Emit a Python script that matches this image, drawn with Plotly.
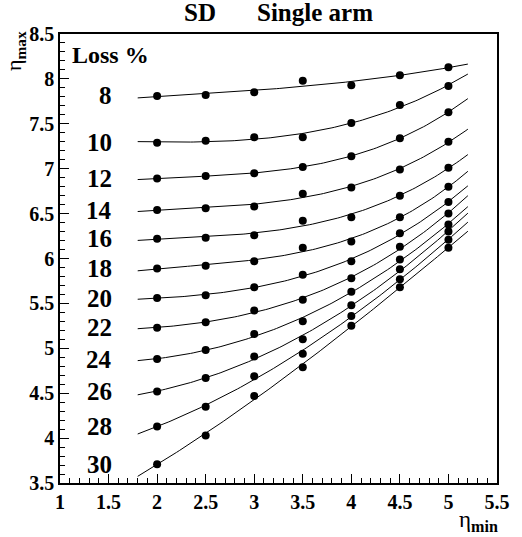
import numpy as np
import plotly.graph_objects as go

# eta_min values
eta_min = [2.0, 2.5, 3.0, 3.5, 4.0, 4.5, 5.0]
# loss percentages (series labels)
loss_labels = ["8", "10", "12", "14", "16", "18", "20", "22", "24", "26", "28", "30"]
# eta_max values per loss series
loss_8 = [7.81, 7.82, 7.85, 7.98, 7.93, 8.04, 8.13]
loss_10 = [7.29, 7.31, 7.35, 7.35, 7.51, 7.71, 7.92]
loss_12 = [6.89, 6.92, 6.95, 7.02, 7.14, 7.34, 7.63]
loss_14 = [6.54, 6.56, 6.58, 6.72, 6.79, 6.99, 7.30]
loss_16 = [6.22, 6.23, 6.26, 6.42, 6.46, 6.70, 7.01]
loss_18 = [5.89, 5.92, 5.97, 6.12, 6.19, 6.46, 6.80]
loss_20 = [5.56, 5.59, 5.68, 5.82, 5.97, 6.28, 6.63]
loss_22 = [5.23, 5.29, 5.42, 5.54, 5.78, 6.13, 6.50]
loss_24 = [4.88, 4.98, 5.16, 5.30, 5.63, 5.99, 6.38]
loss_26 = [4.52, 4.67, 4.91, 5.10, 5.48, 5.88, 6.30]
loss_28 = [4.13, 4.35, 4.69, 4.94, 5.36, 5.77, 6.21]
loss_30 = [3.71, 4.03, 4.47, 4.79, 5.25, 5.68, 6.12]

series = [loss_8, loss_10, loss_12, loss_14, loss_16, loss_18,
          loss_20, loss_22, loss_24, loss_26, loss_28, loss_30]

# axis tick labels
x_ticks = [1, 1.5, 2, 2.5, 3, 3.5, 4, 4.5, 5, 5.5]
y_ticks = [3.5, 4, 4.5, 5, 5.5, 6, 6.5, 7, 7.5, 8, 8.5]

fit_range = (1.8, 5.2)

FONT = "Liberation Serif"
fig = go.Figure()

xf = np.linspace(fit_range[0], fit_range[1], 120)
for lab, ys in zip(loss_labels, series):
    coef = np.polyfit(eta_min, ys, 3)
    fig.add_trace(go.Scatter(x=xf, y=np.polyval(coef, xf), mode="lines",
                             line=dict(color="black", width=1)))
    fig.add_trace(go.Scatter(x=eta_min, y=ys, mode="markers",
                             marker=dict(color="black", size=8)))
    fig.add_annotation(x=1.56, y=ys[0], text="<b>%s</b>" % lab, showarrow=False,
                       xanchor="right", yanchor="middle",
                       font=dict(family=FONT, size=25, color="black"))

def fmt(v):
    return "<b>%g</b>" % v

axis_common = dict(
    showgrid=False, zeroline=False, showline=True, linecolor="black", linewidth=1.5,
    mirror=True, ticks="inside", ticklen=9, tickwidth=1, tickcolor="black",
    minor=dict(dtick=0.1, ticks="inside", ticklen=5, tickcolor="black", tickwidth=1),
    tickfont=dict(family=FONT, size=20, color="black"),
)

fig.update_xaxes(range=[1, 5.5], tickvals=x_ticks, ticktext=[fmt(v) for v in x_ticks],
                 **axis_common)
fig.update_yaxes(range=[3.5, 8.5], tickvals=y_ticks, ticktext=[fmt(v) for v in y_ticks],
                 **axis_common)

def ann(x, y, text, size=20, **kw):
    fig.add_annotation(x=x, y=y, xref="paper", yref="paper", text=text,
                       showarrow=False, font=dict(family=FONT, size=size, color="black"), **kw)

ann(0.022, 0.953, "<b>Loss %</b>", size=24, xanchor="left", yanchor="middle")
ann(0.32, 1.047, "<b>SD</b>", size=25, xanchor="center", yanchor="middle")
ann(0.583, 1.047, "<b>Single arm</b>", size=25, xanchor="center", yanchor="middle")
ann(-0.103, 0.962, "η<sub><b>max</b></sub>", size=22, textangle=-90,
    xanchor="center", yanchor="middle")
ann(0.958, -0.085, "η<sub><b>min</b></sub>", size=23, xanchor="center", yanchor="middle")

fig.update_layout(width=522, height=537, margin=dict(l=60, r=13, t=34, b=54),
                  font=dict(family=FONT, color="black"),
                  paper_bgcolor="white", plot_bgcolor="white", showlegend=False)

fig.write_html("out.html")
